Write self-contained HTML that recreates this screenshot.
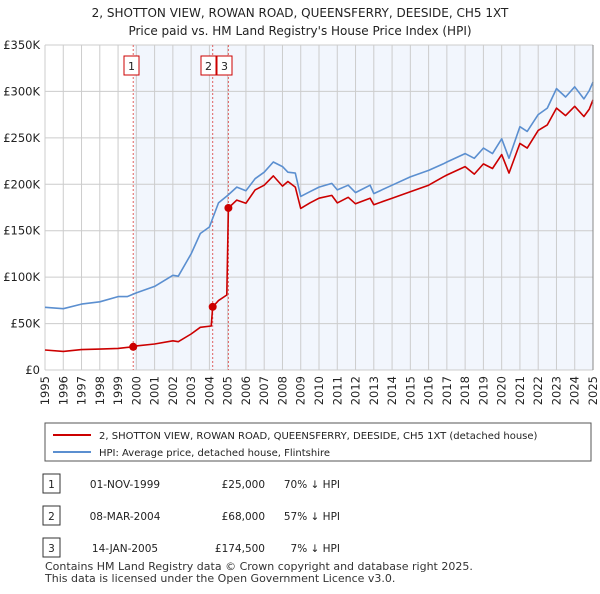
<!DOCTYPE html>
<html><head><meta charset="utf-8"><style>
body{margin:0;background:#fff;font-family:"DejaVu Sans","Liberation Sans",sans-serif;}
svg text{font-family:"DejaVu Sans","Liberation Sans",sans-serif;}
</style></head><body>
<svg id="c" width="600" height="590" viewBox="0 0 600 590" xmlns="http://www.w3.org/2000/svg">
<text x="300" y="17" text-anchor="middle" font-size="12" fill="#222">2, SHOTTON VIEW, ROWAN ROAD, QUEENSFERRY, DEESIDE, CH5 1XT</text>
<text x="300" y="35" text-anchor="middle" font-size="12" fill="#222">Price paid vs. HM Land Registry's House Price Index (HPI)</text>
<g id="plot"></g>
<g>
<rect x="45" y="423" width="546" height="38" fill="#fff" stroke="#555"/>
<line x1="53" y1="435" x2="91" y2="435" stroke="#cc0000" stroke-width="2"/>
<text x="99" y="439" font-size="10" fill="#222">2, SHOTTON VIEW, ROWAN ROAD, QUEENSFERRY, DEESIDE, CH5 1XT (detached house)</text>
<line x1="53" y1="452" x2="91" y2="452" stroke="#5b8fd0" stroke-width="2"/>
<text x="99" y="456" font-size="10" fill="#222">HPI: Average price, detached house, Flintshire</text>
</g>
<g id="table"></g>
<text x="45" y="570" font-size="11" fill="#333">Contains HM Land Registry data © Crown copyright and database right 2025.</text>
<text x="45" y="582" font-size="11" fill="#333">This data is licensed under the Open Government Licence v3.0.</text>
</svg>
<script>
const hpiYears=[1995,1996,1997,1998,1999,1999.5,2000,2001,2002,2002.3,2003,2003.5,2004,2004.5,2005,2005.5,2006,2006.5,2007,2007.5,2008,2008.3,2008.7,2009,2009.5,2010,2010.7,2011,2011.6,2012,2012.8,2013,2014,2015,2016,2016.8,2017,2018,2018.5,2019,2019.5,2020,2020.4,2021,2021.4,2022,2022.5,2023,2023.5,2024,2024.5,2024.8,2025];
const hpiValues=[67.5,66,71,73.5,79,79,83,90,102,101,125,147,154,180,188,197,193,206,213,224,219,213,212,187,192,197,201,194,199,191,199,190,199,208,215,222,224,233,228,239,233,249,228,262,257,275,282,303,294,305,292,301,310];
const priceYears=[1995,1996,1997,1998,1999,1999.83,2000,2001,2002,2002.3,2003,2003.5,2004.1,2004.18,2004.5,2004.95,2005.04,2005.5,2006,2006.5,2007,2007.5,2008,2008.3,2008.7,2009,2009.5,2010,2010.7,2011,2011.6,2012,2012.8,2013,2014,2015,2016,2016.8,2017,2018,2018.5,2019,2019.5,2020,2020.4,2021,2021.4,2022,2022.5,2023,2023.5,2024,2024.5,2024.8,2025];
const priceValues=[21.5,20,22,22.5,23.3,25,26,28,31.5,30.5,38.8,46,47.4,68,74.7,80.8,174.5,183,179.5,194,199,209,198,203,197,174,180,185,188,180,186,179,185,178,185,192,199,208,210,219,211,222,217,232,212,244,239,258,264,282,274,284,273,281,291];
const saleLabels=["1","2","3"];
const saleYears=[1999.83,2004.18,2005.04];
const salePrices=[25,68,174.5];
const saleDates=["01-NOV-1999","08-MAR-2004","14-JAN-2005"];
const salePriceText=["£25,000","£68,000","£174,500"];
const saleHpiText=["70% ↓ HPI","57% ↓ HPI","7% ↓ HPI"];
const yTicks=[0,50,100,150,200,250,300,350];
const yTickLabels=["£0","£50K","£100K","£150K","£200K","£250K","£300K","£350K"];

const NS="http://www.w3.org/2000/svg";
const X0=45,X1=593,Y0=370,Y1=45;
const xs=y=>X0+(y-1995)/(2025-1995)*(X1-X0);
const ys=v=>Y0-v/350*(Y0-Y1);
const plot=document.getElementById('plot');
function mk(tag,attrs,parent){const e=document.createElementNS(NS,tag);for(const k in attrs)e.setAttribute(k,attrs[k]);(parent||plot).appendChild(e);return e;}

let bg=mk('rect',{x:X0,y:Y1,width:X1-X0,height:Y0-Y1,fill:'#fff'});


let sh=mk('rect',{x:xs(saleYears[0])+1,y:Y1,width:X1-xs(saleYears[0])-1,height:Y0-Y1,fill:'#f2f6fd'});


for(let yr=1995;yr<=2025;yr++){
  let g=mk('line',{x1:xs(yr),x2:xs(yr),y1:Y1,y2:Y0,stroke:'#cccccc','stroke-width':1});
  
  
  let t=mk('text',{x:0,y:0,'font-size':11.5,fill:'#222','text-anchor':'end',transform:`translate(${xs(yr)+4},376) rotate(-90)`});
  t.textContent=yr;
  
  
}
yTicks.forEach((v,i)=>{
  let g=mk('line',{x1:X0,x2:X1,y1:ys(v),y2:ys(v),stroke:'#cccccc','stroke-width':1});
  
  
  let t=mk('text',{x:40,y:ys(v)+4,'font-size':11.5,fill:'#222','text-anchor':'end'});
  t.textContent=yTickLabels[i];
  
  
});
saleYears.forEach((y,i)=>{
  let l=mk('line',{x1:xs(y),x2:xs(y),y1:Y1,y2:Y0,stroke:'#e06060','stroke-width':1,'stroke-dasharray':'2,2'});
  
  
});
function path(xa,va,color,name){
  let d=xa.map((x,i)=>(i?'L':'M')+xs(x).toFixed(1)+','+ys(va[i]).toFixed(1)).join('');
  let p=mk('path',{d:d,fill:'none',stroke:color,'stroke-width':1.6,'stroke-linejoin':'round'});
  
  
}
path(hpiYears,hpiValues,'#5b8fd0','hpi-line');
path(priceYears,priceValues,'#cc0000','price-paid-line');
saleYears.forEach((y,i)=>{
  let c=mk('circle',{cx:xs(y),cy:ys(salePrices[i]),r:4,fill:'#cc0000'});
  
  
  let bx=[124,201,217][i];
  let r=mk('rect',{x:bx,y:56,width:15,height:19,fill:'#fff',stroke:'#cc0000'});
  
  
  let t=mk('text',{x:bx+7.5,y:70,'font-size':11,fill:'#222','text-anchor':'middle'});
  t.textContent=saleLabels[i];
  
  
});
let ax=mk('line',{x1:X1,x2:X1,y1:Y1,y2:Y0,stroke:'#888'});



const tbl=document.getElementById('table');
saleLabels.forEach((s,i)=>{
  const y=[484,516,548][i];
  let r=mk('rect',{x:43,y:y-10,width:17,height:19,fill:'#fff',stroke:'#333'},tbl);
  
  
  const cells=[[51.5,s,'middle'],[125,saleDates[i],'middle'],[265,salePriceText[i],'end'],[340,saleHpiText[i],'end']];
  cells.forEach(c=>{
    let t=mk('text',{x:c[0],y:y+4,'font-size':10.5,fill:'#222','text-anchor':c[2]},tbl);
    t.textContent=c[1];
    
    
  });
});
</script>
</body></html>
